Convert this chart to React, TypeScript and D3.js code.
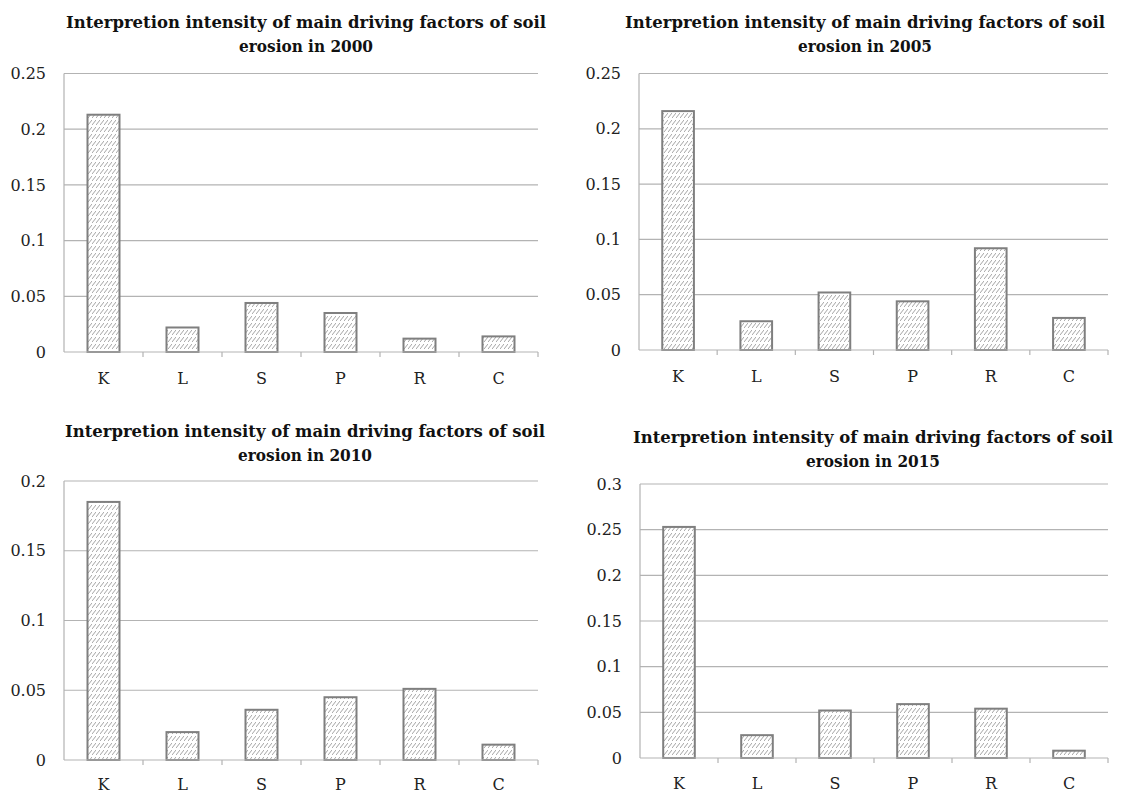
import React from 'react';
import * as d3 from 'd3';

const categories = ['K', 'L', 'S', 'P', 'R', 'C'];
const years = ['2000', '2005', '2010', '2015'];
const values2000 = [0.213, 0.022, 0.044, 0.035, 0.012, 0.014];
const values2005 = [0.216, 0.026, 0.052, 0.044, 0.092, 0.029];
const values2010 = [0.185, 0.020, 0.036, 0.045, 0.051, 0.011];
const values2015 = [0.253, 0.025, 0.052, 0.059, 0.054, 0.008];
const yMaxes = [0.25, 0.25, 0.2, 0.3];
const yStep = 0.05;

const seriesList = [values2000, values2005, values2010, values2015];

// panel boxes (plot area) in page pixels
const boxes = [
  { left: 64, right: 538, top: 73.5, bottom: 352, titleX: 306, titleY: 28, labelDy: 32 },
  { left: 639, right: 1108, top: 73.5, bottom: 350, titleX: 865, titleY: 28, labelDy: 32 },
  { left: 64, right: 538, top: 481, bottom: 760, titleX: 305, titleY: 437, labelDy: 30 },
  { left: 640, right: 1108, top: 484, bottom: 758, titleX: 873, titleY: 443, labelDy: 31 },
];

const serif = 'DejaVu Serif';
const gridColor = '#b3b3b3';
const barStroke = '#7f7f7f';

const Panel: React.FC<{ idx: number }> = ({ idx }) => {
  const b = boxes[idx];
  const values = seriesList[idx];
  const yMax = yMaxes[idx];

  const x = d3.scaleBand<string>().domain(categories).range([b.left, b.right]);
  const y = d3.scaleLinear().domain([0, yMax]).range([b.bottom, b.top]);
  const ticks = d3.range(0, yMax + yStep / 2, yStep);
  const fmt = (t: number) => String(+t.toFixed(2));
  const bw = x.step() * 0.405;

  return (
    <g>
      <text x={b.titleX} y={b.titleY} textAnchor="middle" fontFamily={serif} fontWeight="bold" fontSize={16}
        fill="#111" textLength={480} lengthAdjust="spacingAndGlyphs">
        Interpretion intensity of main driving factors of soil
      </text>
      <text x={b.titleX} y={b.titleY + 24} textAnchor="middle" fontFamily={serif} fontWeight="bold" fontSize={16}
        fill="#111" textLength={134} lengthAdjust="spacingAndGlyphs">
        {`erosion in ${years[idx]}`}
      </text>

      {ticks.map((t) => (
        <g key={t}>
          {t > 0 && (
            <line x1={b.left} x2={b.right} y1={y(t)} y2={y(t)} stroke={gridColor} strokeWidth={1.2} />
          )}
          <text x={b.left - 18} y={y(t)} dy="0.35em" textAnchor="end" fontFamily={serif} fontSize={16} fill="#222">
            {fmt(t)}
          </text>
        </g>
      ))}

      <line x1={b.left} x2={b.left} y1={b.top} y2={b.bottom} stroke={gridColor} strokeWidth={1.2} />

      {categories.map((c, i) => (
        <rect
          key={c}
          x={(x(c) as number) + (x.step() - bw) / 2}
          y={y(values[i])}
          width={bw}
          height={b.bottom - y(values[i])}
          fill="url(#hatch)"
          stroke={barStroke}
          strokeWidth={2}
        />
      ))}

      <line x1={b.left} x2={b.right} y1={b.bottom} y2={b.bottom} stroke={gridColor} strokeWidth={1.2} />
      {categories.map((c) => (
        <line
          key={'t' + c}
          x1={(x(c) as number) + x.step()}
          x2={(x(c) as number) + x.step()}
          y1={b.bottom}
          y2={b.bottom + 5}
          stroke={gridColor}
          strokeWidth={1.2}
        />
      ))}
      {categories.map((c) => (
        <text
          key={'l' + c}
          x={(x(c) as number) + x.step() / 2}
          y={b.bottom + b.labelDy}
          textAnchor="middle"
          fontFamily={serif}
          fontSize={16}
          fill="#222"
        >
          {c}
        </text>
      ))}
    </g>
  );
};

export default function App() {
  return (
    <div style={{ position: 'absolute', left: 0, top: 0, background: '#fff' }}>
      <svg width={1126} height={794} style={{ display: 'block' }}>
        <defs>
          <pattern id="hatch" width={4} height={7} patternUnits="userSpaceOnUse">
            <rect width={4} height={7} fill="#fff" />
            <line x1={0} y1={6} x2={4} y2={1} stroke="#9a9a9a" strokeWidth={0.9} />
          </pattern>
        </defs>
        <rect width={1126} height={794} fill="#fff" />
        {years.map((_, i) => (
          <Panel key={i} idx={i} />
        ))}
      </svg>
    </div>
  );
}
